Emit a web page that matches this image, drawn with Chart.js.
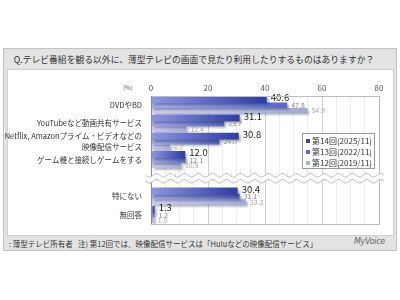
<!DOCTYPE html>
<html><head><meta charset="utf-8">
<script src="https://cdn.jsdelivr.net/npm/chart.js@4/dist/chart.umd.min.js"></script>
<style>
html,body{margin:0;padding:0;}
body{width:400px;height:300px;position:relative;background:#fff;font-family:'Noto Sans CJK JP','Noto Sans',sans-serif;overflow:hidden;}
#frame{position:absolute;left:3px;top:48px;width:394px;height:203px;background:#e3e3e3;border:1px solid #c4c4c4;box-sizing:border-box;}
#panel{position:absolute;left:7px;top:69px;width:387px;height:167px;background:#fff;border:1px solid #cfcfcf;box-sizing:border-box;}
#title{position:absolute;left:-6px;top:53px;width:400px;text-align:center;font-size:8.8px;color:#333;line-height:14px;white-space:nowrap;}
#unit{position:absolute;left:123px;top:83px;font-size:6px;color:#555;}
.foot{position:absolute;top:238px;font-size:7.5px;color:#333;white-space:nowrap;line-height:11px;}
#brand{position:absolute;left:354px;top:237px;font-size:8px;color:#666;font-style:italic;font-family:'DejaVu Sans',sans-serif;letter-spacing:-0.3px;}
canvas{position:absolute;left:0;top:0;}
</style></head>
<body>
<div id="frame"></div>
<div id="title">Q.テレビ番組を観る以外に、薄型テレビの画面で見たり利用したりするものはありますか？</div>
<div id="panel"></div>
<div id="unit">(%)</div>
<div class="foot" style="left:9px">: 薄型テレビ所有者</div>
<div class="foot" style="left:78px">注) 第12回では、映像配信サービスは「Huluなどの映像配信サービス」</div>
<div id="brand">MyVoice</div>
<canvas id="c" width="400" height="300"></canvas>
<script>
const categories = ['DVDやBD','YouTubeなど動画共有サービス',['Netflix, Amazonプライム・ビデオなどの','映像配信サービス'],'ゲーム機と接続しゲームをする','','特にない','無回答'];
const seriesNames = ['第14回(2025/11)','第13回(2022/11)','第12回(2019/11)'];
const survey14 = [40.6,31.1,30.8,12.0,null,30.4,1.3];
const survey13 = [47.8,25.7,24.0,12.1,null,31.1,1.2];
const survey12 = [54.9,12.4,6.7,10.5,null,33.3,1.0];
const xTickLabels = [0,20,40,60,80];

const gradStops = [['#8d97e2','#2e3ca4'],['#a3acea','#5466ca'],['#c9cdef','#a2aadd']];
const legendColors = ['#3845ad','#5a6ad0','#aab1e2'];
const labelStyles = [
  {color:'#222',font:'9.5px "Noto Sans CJK JP", sans-serif',dy:-2},
  {color:'#8a8a8a',font:'7px "Noto Sans CJK JP", sans-serif',dy:0},
  {color:'#a8a8a8',font:'7px "Noto Sans CJK JP", sans-serif',dy:0}
];

function makeBg(i){
  return function(ctx){
    const chart = ctx.chart;
    const ca = chart.chartArea;
    if(!ca || ctx.raw==null) return legendColors[i];
    const xs = chart.scales.x;
    const x1 = xs.getPixelForValue(ctx.raw);
    const g = chart.ctx.createLinearGradient(ca.left,0,Math.max(x1,ca.left+1),0);
    g.addColorStop(0,gradStops[i][0]);
    g.addColorStop(1,gradStops[i][1]);
    return g;
  };
}

const shadowPlugin = {
  id:'shadow',
  beforeDatasetsDraw(chart){
    const c = chart.ctx; c.save();
    c.shadowColor='rgba(0,0,0,0.28)'; c.shadowOffsetX=2; c.shadowOffsetY=2; c.shadowBlur=2;
  },
  afterDatasetsDraw(chart){
    chart.ctx.restore();
    const c = chart.ctx;
    chart.data.datasets.forEach((ds,i)=>{
      const meta = chart.getDatasetMeta(i);
      meta.data.forEach((bar,j)=>{
        const v = ds.data[j];
        if(v==null) return;
        c.save();
        c.fillStyle = labelStyles[i].color;
        c.font = labelStyles[i].font;
        c.textAlign='left'; c.textBaseline='middle';
        c.fillText(v.toFixed(1), bar.x+4, bar.y+labelStyles[i].dy);
        c.restore();
      });
    });
  }
};

const framePlugin = {
  id:'frameBox',
  afterDraw(chart){
    const c = chart.ctx, ca = chart.chartArea;
    c.save();
    c.strokeStyle='#bdbdbd'; c.lineWidth=1;
    c.strokeRect(Math.round(ca.left)+0.5, Math.round(ca.top)+0.5, Math.round(ca.right-ca.left), Math.round(ca.bottom-ca.top));
    c.strokeStyle='#8a8a8a';
    c.beginPath(); c.moveTo(Math.round(ca.left)+0.5,ca.top); c.lineTo(Math.round(ca.left)+0.5,ca.bottom); c.stroke();
    // wavy break
    const yc = chart.scales.y.getPixelForValue(4);
    const x0 = ca.left-5, x1 = ca.right+5, per = 14, amp = 1.8, gap = 3;
    function wave(off){
      c.moveTo(x0, yc+off);
      for(let x=x0;x<=x1;x+=1){ c.lineTo(x, yc+off+amp*Math.sin((x-x0)/per*2*Math.PI)); }
    }
    c.fillStyle='#fff';
    c.beginPath();
    c.moveTo(x0,yc-gap);
    for(let x=x0;x<=x1;x+=1){ c.lineTo(x, yc-gap+amp*Math.sin((x-x0)/per*2*Math.PI)); }
    for(let x=x1;x>=x0;x-=1){ c.lineTo(x, yc+gap+amp*Math.sin((x-x0)/per*2*Math.PI)); }
    c.closePath(); c.fill();
    c.strokeStyle='#b0b0b0'; c.lineWidth=0.8;
    c.beginPath(); wave(-gap); c.stroke();
    c.beginPath(); wave(gap); c.stroke();
    // legend
    const lx=302, ly=133, lw=72, lh=35;
    c.fillStyle='#fff'; c.fillRect(lx,ly,lw,lh);
    c.strokeStyle='#9a9a9a'; c.lineWidth=1; c.strokeRect(lx+0.5,ly+0.5,lw,lh);
    c.font='8px "Noto Sans CJK JP", sans-serif'; c.textBaseline='middle'; c.textAlign='left';
    chart.data.datasets.forEach((ds,i)=>{
      const yy = ly+8+i*11;
      c.fillStyle=legendColors[i]; c.fillRect(lx+4, yy-2, 4, 4);
      c.fillStyle='#333'; c.fillText(ds.label, lx+10, yy);
    });
    c.restore();
  }
};

new Chart(document.getElementById('c'),{
  type:'bar',
  data:{
    labels:categories,
    datasets:[
      {label:seriesNames[0],data:survey14,backgroundColor:makeBg(0),barPercentage:1.3},
      {label:seriesNames[1],data:survey13,backgroundColor:makeBg(1),barPercentage:1.0},
      {label:seriesNames[2],data:survey12,backgroundColor:makeBg(2),barPercentage:1.0}
    ]
  },
  options:{
    indexAxis:'y',
    responsive:false,
    animation:false,
    categoryPercentage:0.9,
    layout:{padding:{left:0,right:21,top:0,bottom:76}},
    plugins:{legend:{display:false},tooltip:{enabled:false}},
    scales:{
      x:{
        position:'top',min:0,max:80,
        afterFit(s){ s.height=96; },
        afterBuildTicks(s){ const t=[]; for(let v=0;v<=80;v+=5) t.push({value:v}); s.ticks=t; },
        ticks:{autoSkip:false,maxRotation:0,padding:3,color:'#555',font:{size:8,family:'"Noto Sans CJK JP", sans-serif'},
          callback(v){ return xTickLabels.includes(v)? String(v):''; }},
        grid:{drawTicks:false,color(ctx){ return ctx.tick && ctx.tick.value%20===0 ? '#cfcfcf' : '#ededed'; }},
        border:{display:false}
      },
      y:{
        afterFit(s){ s.width=151; },
        ticks:{autoSkip:false,padding:9,color:'#333',font:{size:7.5,family:'"Noto Sans CJK JP", sans-serif',lineHeight:1.35}},
        grid:{display:false,drawTicks:false},
        border:{display:false}
      }
    }
  },
  plugins:[shadowPlugin,framePlugin]
});
</script>
</body></html>
